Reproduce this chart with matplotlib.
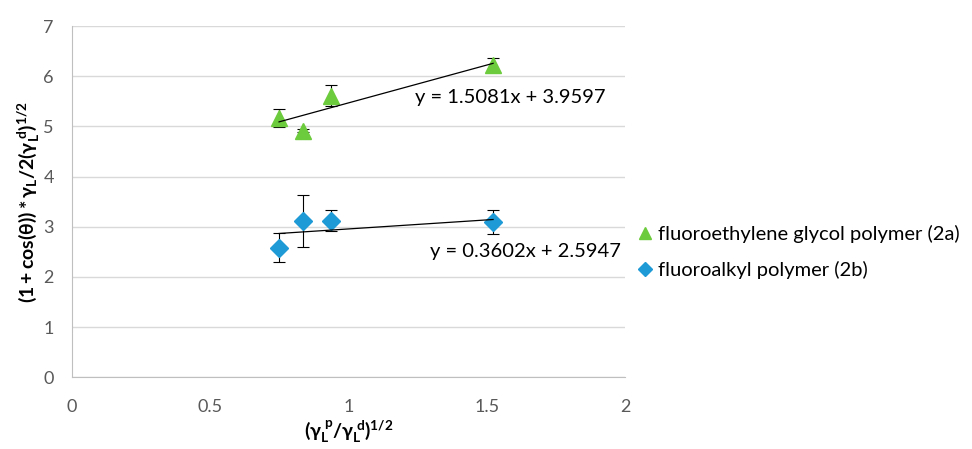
import matplotlib
matplotlib.use('Agg')
import matplotlib.pyplot as plt

plt.rcParams['font.family'] = ['Lato', 'DejaVu Sans']
plt.rcParams['mathtext.fontset'] = 'custom'
plt.rcParams['mathtext.rm'] = 'Lato'
plt.rcParams['mathtext.bf'] = 'Lato:bold'
plt.rcParams['mathtext.it'] = 'Lato:italic'

# data
x_vals = [0.749, 0.835, 0.937, 1.523]
glycol_y = [5.17, 4.91, 5.61, 6.23]
glycol_err = [0.18, 0.03, 0.21, 0.13]
alkyl_y = [2.58, 3.12, 3.12, 3.10]
alkyl_err = [0.29, 0.52, 0.21, 0.24]
glycol_fit = (1.5081, 3.9597)
alkyl_fit = (0.3602, 2.5947)

green = '#6CCB3C'
blue = '#1E9AD6'

fig = plt.figure(figsize=(9.72, 4.49), dpi=100)
ax = fig.add_axes([0.074, 0.160, 0.569, 0.782])

ax.errorbar(x_vals, glycol_y, yerr=glycol_err, fmt='none', ecolor='black',
            elinewidth=0.8, capsize=4, capthick=0.8, zorder=2)
ax.errorbar(x_vals, alkyl_y, yerr=alkyl_err, fmt='none', ecolor='black',
            elinewidth=0.8, capsize=4, capthick=0.8, zorder=2)
ax.plot(x_vals, glycol_y, linestyle='none', marker='^', markersize=11,
        color=green, label='fluoroethylene glycol polymer (2a)', zorder=3)
ax.plot(x_vals, alkyl_y, linestyle='none', marker='D', markersize=9,
        color=blue, label='fluoroalkyl polymer (2b)', zorder=3)

# trendlines over data range
x0, x1 = min(x_vals), max(x_vals)
ax.plot([x0, x1], [glycol_fit[0] * x0 + glycol_fit[1], glycol_fit[0] * x1 + glycol_fit[1]],
        color='black', linewidth=0.9, zorder=4)
ax.plot([x0, x1], [alkyl_fit[0] * x0 + alkyl_fit[1], alkyl_fit[0] * x1 + alkyl_fit[1]],
        color='black', linewidth=0.9, zorder=4)
ax.text(1.24, 5.57, 'y = %.4fx + %.4f' % glycol_fit, fontsize=14.5, va='center', ha='left')
ax.text(1.295, 2.5, 'y = %.4fx + %.4f' % alkyl_fit, fontsize=14.5, va='center', ha='left')

ax.set_xlim(0, 2)
ax.set_ylim(0, 7)
ax.set_xticks([0, 0.5, 1, 1.5, 2])
ax.set_xticklabels(['0', '0.5', '1', '1.5', '2'])
ax.set_yticks(range(8))
ax.grid(axis='y', color='#d9d9d9', linewidth=1)
ax.set_axisbelow(True)
for s in ['top', 'right']:
    ax.spines[s].set_visible(False)
ax.spines['left'].set_color('#bfbfbf')
ax.spines['bottom'].set_color('#bfbfbf')
ax.tick_params(length=0, labelcolor='#595959', labelsize=13)
ax.tick_params(axis='x', pad=16)
ax.tick_params(axis='y', pad=13)

ax.set_xlabel(r'$\mathbf{(\gamma_L^{\ p}/\gamma_L^{\ d})^{1/2}}$', fontsize=14, labelpad=2)
ax.set_ylabel(r'$\mathbf{(1+cos(\theta))*\gamma_L/2(\gamma_L^{\ d})^{1/2}}$', fontsize=14, labelpad=1)

fig.legend(loc='upper left', bbox_to_anchor=(0.633, 0.539), frameon=False,
           fontsize=14.5, handletextpad=0.0, labelspacing=0.9, handlelength=1.2,
           markerscale=0.8)

fig.savefig('out.png', dpi=100)
